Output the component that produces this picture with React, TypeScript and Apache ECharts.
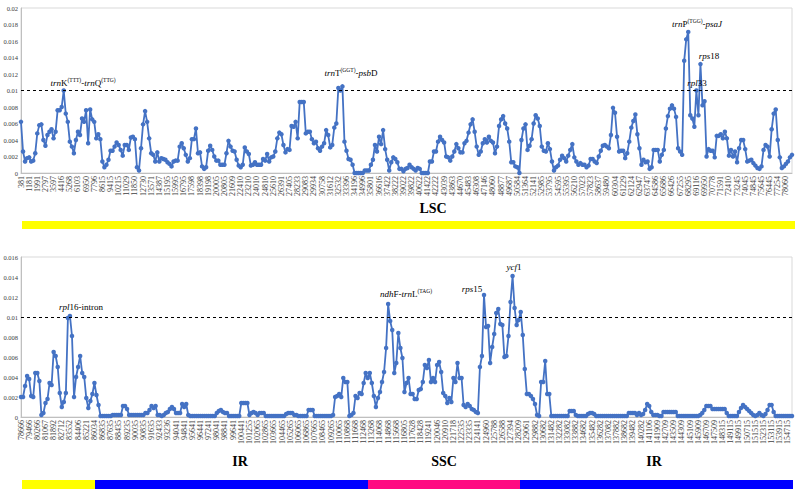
import React, { useEffect, useRef } from 'react';
import * as echarts from 'echarts';

// ---------- data ----------
const topTicks = [
  '381', '1181', '1991', '2797', '3597', '4416', '5268', '6103', '6950', '7796',
  '8615', '9415', '10215', '11029', '11850', '12730', '13571', '14387', '15195', '15995',
  '16795', '17598', '18398', '19198', '20005', '20805', '21609', '22410', '23210', '24010',
  '24810', '25610', '26391', '27405', '28233', '29083', '29934', '30758', '31612', '32532',
  '33396', '34196', '34996', '35801', '36616', '37422', '38222', '39022', '39822', '40622',
  '41422', '42222', '43039', '43863', '44670', '45483', '46308', '47146', '48060', '48877',
  '49687', '50584', '51364', '52141', '52985', '53795', '54595', '55395', '56210', '57023',
  '57823', '58637', '59480', '60304', '61229', '62124', '62947', '63747', '64586', '65686',
  '66426', '67255', '68295', '69116', '69950', '70778', '71591', '72410', '73245', '74045',
  '74845', '75645', '76445', '77254', '78060',
];

const bottomTicks = [
  '78666', '79466', '80266', '81067', '81892', '82712', '83552', '84406', '85221', '86034',
  '86835', '87635', '88435', '89235', '90035', '90835', '91635', '92433', '93236', '94041',
  '94841', '95641', '96441', '97241', '98041', '98841', '99641', '100441', '101255', '102065',
  '102865', '103665', '104465', '105265', '106065', '106865', '107665', '108465', '109265', '110065',
  '110868', '111668', '112468', '113268', '114068', '114868', '115668', '116805', '117628', '118428',
  '119241', '120046', '120910', '121718', '122535', '123335', '124141', '124960', '125788', '126588',
  '127394', '128209', '129061', '129882', '130682', '131482', '132282', '133082', '133882', '134682',
  '135482', '136282', '137082', '137882', '138682', '139482', '140282', '141106', '141909', '142709',
  '143509', '144309', '145109', '145909', '146709', '147509', '148315', '149115', '149915', '150715',
  '151515', '152315', '153115', '153915', '154715',
];

// Pi values, LSC panel
const topValues = [
  0.0062, 0.0026, 0.0014, 0.0018, 0.0019, 0.0014, 0.0015, 0.0024,
  0.0048, 0.0058, 0.0059, 0.004, 0.0033, 0.0046, 0.005, 0.0053, 0.0042, 0.005,
  0.0076, 0.0076, 0.008, 0.01, 0.0072, 0.0062, 0.0038, 0.0032, 0.0024,
  0.004, 0.005, 0.0046, 0.0066, 0.0062, 0.0076, 0.0036, 0.0077, 0.0065, 0.0062,
  0.0042, 0.0047, 0.0041, 0.0014, 0.0007, 0.001, 0.0016, 0.0027, 0.0027, 0.0032,
  0.0037, 0.0034, 0.0028, 0.0021, 0.0034, 0.0034, 0.0028, 0.0043, 0.0044, 0.0041,
  0.0007, 0.0003, 0.003, 0.0059, 0.0075, 0.0062, 0.0042, 0.0024, 0.0022, 0.0014,
  0.0025, 0.0014, 0.0018, 0.0017, 0.0016, 0.0013, 0.0011, 0.0008, 0.0014, 0.0015, 0.0015,
  0.0032, 0.0036, 0.003, 0.0022, 0.0014, 0.0018, 0.0041, 0.0041, 0.0054, 0.0024,
  0.0025, 0.0008, 0.0005, 0.0007, 0.0027, 0.0033, 0.0028, 0.002, 0.0015, 0.0015,
  0.001, 0.001, 0.001, 0.0024, 0.0039, 0.0032, 0.0027, 0.0026, 0.0016, 0.0009,
  0.0007, 0.001, 0.0031, 0.0026, 0.0023, 0.0009, 0.001, 0.0013, 0.001, 0.001, 0.001,
  0.0017, 0.0015, 0.0023, 0.0014, 0.0019, 0.002, 0.0026, 0.0042, 0.0049, 0.0047,
  0.0034, 0.0025, 0.0029, 0.0028, 0.0057, 0.0056, 0.0062, 0.0042, 0.0086, 0.0086,
  0.0086, 0.0048, 0.005, 0.005, 0.0041, 0.0036, 0.0038, 0.003, 0.0027, 0.0032,
  0.0036, 0.0052, 0.0046, 0.0031, 0.0034, 0.0055, 0.006, 0.0103, 0.01, 0.0105,
  0.0038, 0.0027, 0.0017, 0.0016, 0.001, 0, 0, 0, 0, 0,
  0.0003, 0.0003, 0.0003, 0.001, 0.0016, 0.0034, 0.0026, 0.0044, 0.0035, 0.0052,
  0.0029, 0.0016, 0.0003, 0.0013, 0.0019, 0.0017, 0.0013, 0.0005, 0.0005,
  0.0002, 0.0005, 0.0006, 0.001, 0.0007, 0.0005, 0.0003, 0.0006, 0.0005, 0,
  0, 0, 0, 0.0014, 0.0014, 0.0026, 0.0026, 0.0038, 0.0044, 0.004,
  0.0037, 0.002, 0.0019, 0.0015, 0.002, 0.0026, 0.0035, 0.003, 0.0025, 0.0025,
  0.0036, 0.0039, 0.0049, 0.0059, 0.0065, 0.005, 0.0032, 0.0022, 0.0026, 0.0036,
  0.0041, 0.0037, 0.0044, 0.0039, 0.0037, 0.0024, 0.0032, 0.0057, 0.0065, 0.0069,
  0.006, 0.0054, 0.0038, 0.0013, 0.0013, 0.0008, 0.0007, 0, 0.004, 0.0054,
  0.0059, 0.0028, 0.0033, 0.0041, 0.006, 0.007, 0.0066, 0.0057, 0.0032, 0.0027,
  0.0026, 0.0036, 0.0029, 0.0014, 0.0003, 0.0007, 0.0009, 0.0016, 0.0021, 0.0018,
  0.0014, 0.0021, 0.0028, 0.0035, 0.0019, 0.0014, 0.001, 0.0012, 0.001, 0.001,
  0.0007, 0.0009, 0.0017, 0.0017, 0.0014, 0.0012, 0.002, 0.0027, 0.0033, 0.0034,
  0.0032, 0.003, 0.0046, 0.0079, 0.0073, 0.0044, 0.0026, 0.0027, 0.0027, 0.0018,
  0.0024, 0.0038, 0.0055, 0.0063, 0.0071, 0.0047, 0.003, 0.001, 0.0016, 0.0013,
  0.0014, 0.0005, 0.0007, 0.0028, 0.0028, 0.0028, 0.0014, 0.0022, 0.0028, 0.0054,
  0.0069, 0.0078, 0.0082, 0.0078, 0.0068, 0.003, 0.0026, 0.0022, 0.0136, 0.0162,
  0.0171, 0.007, 0.0066, 0.0056, 0.01, 0.007, 0.0132, 0.0082, 0.0087, 0.002,
  0.0029, 0.0027, 0.0027, 0.0019, 0.0045, 0.0045, 0.0047, 0.0042, 0.005, 0.0042,
  0.0021, 0.0028, 0.002, 0.0026, 0.0013, 0.003, 0.004, 0.004, 0.0029, 0.0014,
  0.0015, 0.0016, 0.0012, 0.0009, 0.0006, 0.0005, 0.0008, 0.0028, 0.0034, 0.0032,
  0.002, 0.0053, 0.0072, 0.0077, 0.004, 0.0019, 0.0006, 0.0008, 0.0011, 0.0014,
  0.0019, 0.0022,
];

// Pi values, IR / SSC / IR panel
const bottomValues = [
  0.002, 0.002, 0.0031, 0.0041, 0.0038, 0.0021, 0.002, 0.0044, 0.0044, 0.0036,
  0.0002, 0.0004, 0.0014, 0.0018, 0.0034, 0.0032, 0.0065, 0.0061, 0.005, 0.0024,
  0.001, 0.0015, 0.0024, 0.0099, 0.0101, 0.0081, 0.002, 0.004, 0.005, 0.0061,
  0.0044, 0.004, 0.0019, 0.0009, 0.0016, 0.0023, 0.0034, 0.0022, 0.0012,
  0.0001, 0.0001, 0.0001, 0.0001, 0.0001, 0.0001,
  0.0002, 0.0002, 0.0002, 0.0002, 0.0002,
  0.0011, 0.0011, 0.0008,
  0.0002, 0.0002, 0.0002, 0.0002, 0.0002, 0.0002, 0.0002, 0.0002,
  0.0004, 0.0004, 0.0007,
  0.0011, 0.0009, 0.0011,
  0.0002, 0.0002, 0.0001, 0.0002,
  0.0004, 0.0005, 0.0008, 0.001, 0.0008,
  0.0004, 0.0004, 0.0004,
  0.0013, 0.001, 0.0013,
  0.0002, 0.0001,
  0.0001, 0.0001, 0.0001, 0.0001, 0.0001, 0.0001, 0.0001, 0.0001, 0.0001, 0.0001, 0.0001, 0.0001,
  0.0004, 0.0006, 0.0007, 0.0005, 0.0004, 0.0004,
  0.0001, 0.0001, 0.0001, 0.0001, 0.0001, 0.0001,
  0.0014, 0.0014, 0.0014, 0.0014,
  0.0002, 0.0004, 0.0005, 0.0004, 0.0002,
  0.0004, 0.0004, 0.0004,
  0.0001, 0.0001, 0.0001, 0.0001, 0.0001, 0.0001, 0.0001, 0.0001, 0.0001, 0.0001,
  0.0003, 0.0004, 0.0004, 0.0004, 0.0002, 0.0002, 0.0001,
  0.0001, 0.0001, 0.0001, 0.0001,
  0.0007, 0.0007, 0.0007,
  0.0001, 0.0001, 0.0001, 0.0001, 0.0001, 0.0001, 0.0001, 0.0001, 0.0001,
  0.0002,
  0.002, 0.0021, 0.0023, 0.002, 0.0039, 0.0035, 0.0035,
  0.0001, 0.0002, 0.0004,
  0.0021, 0.0019, 0.0024, 0.0023, 0.0034, 0.0044, 0.0039, 0.0044, 0.0034, 0.0021,
  0.001, 0.0019, 0.0025, 0.0035, 0.0045, 0.0069, 0.0113, 0.0096, 0.0087, 0.0044,
  0.0054, 0.0084, 0.0069, 0.0059, 0.0025, 0.0034, 0.0039, 0.0023, 0.0023, 0.0018,
  0.0018, 0.0027, 0.0028, 0.0035, 0.0052, 0.0049, 0.0057, 0.0035, 0.0039, 0.0035,
  0.0052, 0.0055, 0.0045, 0.0024, 0.0021, 0.0014, 0.0019, 0.0015, 0.0039, 0.0035,
  0.0054, 0.0039, 0.0039, 0.0012, 0.001, 0.0013, 0.0011, 0.0008, 0.0007, 0.0005,
  0.0004, 0.005, 0.0061, 0.0122, 0.009, 0.0091, 0.0054, 0.007, 0.0083, 0.0104,
  0.0108, 0.0093, 0.0092, 0.006, 0.0061, 0.0081, 0.0115, 0.0141, 0.0109, 0.0092,
  0.0097, 0.0105, 0.0082, 0.0048, 0.0023, 0.0023, 0.0021, 0.0018, 0.0013,
  0.0002, 0.0001, 0.0035, 0.0035, 0.0056, 0.0023, 0.0023,
  0.0001, 0.0001, 0.0001, 0.0001, 0.0001, 0.0001, 0.0001, 0.0001, 0.0001,
  0.0006, 0.0006, 0.0006, 0.0002,
  0.0001, 0.0001, 0.0001, 0.0001, 0.0001,
  0.0003, 0.0004, 0.0004, 0.0003, 0.0001,
  0.0001, 0.0001, 0.0001, 0.0001, 0.0001, 0.0001, 0.0001, 0.0001, 0.0001, 0.0001, 0.0001, 0.0001, 0.0001, 0.0001, 0.0001,
  0.0004, 0.0004, 0.0004, 0.0004, 0.0002, 0.0004, 0.0002,
  0.0003, 0.0007, 0.0013, 0.0011, 0.0005,
  0.0002, 0.0002, 0.0002,
  0.0001, 0.0001,
  0.0005, 0.0005, 0.0005, 0.0005, 0.0005, 0.0005, 0.0005,
  0.0001, 0.0001, 0.0001, 0.0001, 0.0001, 0.0001, 0.0001, 0.0001, 0.0001, 0.0001, 0.0001,
  0.0002, 0.0004, 0.0007, 0.0011, 0.0011, 0.0011,
  0.0008, 0.0008, 0.0008, 0.0008, 0.0008, 0.0008, 0.0008, 0.0004,
  0.0001, 0.0001, 0.0001, 0.0001, 0.0001,
  0.0005, 0.0009, 0.0012, 0.001, 0.0008, 0.0006, 0.0004, 0.0002,
  0.0001, 0.0002, 0.0004, 0.0002, 0.0001,
  0.0003, 0.0007, 0.0012, 0.0012, 0.0005,
  0.0001, 0.0001, 0.0001, 0.0001, 0.0001, 0.0001, 0.0001, 0.0001, 0.0001,
];

const threshold = 0.01;
const topMax = 0.02;
const bottomMax = 0.016;
const yStep = 0.002;
const ticksEvery = 4;

const topNoteTexts = [
  '{i|trn}K{s|(TTT)}-{i|trn}Q{s|(TTG)}',
  '{i|trn}T{s|(GGT)}-{i|psb}D',
  '{i|trn}P{s|(TGG)}-{i|psaJ}',
  '{i|rps}18',
  '{i|rpl}33',
];
const bottomNoteTexts = [
  '{i|rpl}16-intron',
  '{i|ndh}F-{i|trn}L{s|(TAG)}',
  '{i|rps}15',
  '{i|ycf}1',
];
const regionNames = ['LSC', 'IR', 'SSC', 'IR'];

// ---------- layout ----------
const FONT = '"Liberation Serif", "Times New Roman", serif';
const LINE = '#4472C4';
const topNotePos = [
  [83, 83], [351, 73], [697, 24], [709, 56], [697, 83],
];
const bottomNotePos = [
  [81, 307], [406, 294], [472, 289], [514, 267],
];
const regionLabelPos = [
  [433, 208], [240, 461], [444, 461], [654, 461],
];
const bars = [
  { x: 22, y: 221, w: 773, h: 8, color: '#FFFF00' },
  { x: 22, y: 480, w: 73, h: 9, color: '#FFFF00' },
  { x: 95, y: 480, w: 273, h: 9, color: '#0000FF' },
  { x: 368, y: 480, w: 152, h: 9, color: '#FF0A82' },
  { x: 520, y: 480, w: 273, h: 9, color: '#0000FF' },
];

const rich = {
  i: { fontStyle: 'italic', fontSize: 9, fontFamily: FONT, fill: '#000', verticalAlign: 'middle' },
  s: { fontSize: 5.5, fontFamily: FONT, fill: '#000', verticalAlign: 'top' },
};

function noteGraphic(text: string, pos: number[]) {
  return {
    type: 'text',
    x: pos[0],
    y: pos[1],
    z: 100,
    style: {
      text,
      fill: '#000',
      fontSize: 9,
      fontFamily: FONT,
      lineHeight: 12,
      align: 'center',
      verticalAlign: 'middle',
      rich,
    },
  };
}

function xAxisFor(grid: number, n: number, ticks: string[]) {
  return {
    type: 'value',
    gridIndex: grid,
    min: 0,
    max: n - 1,
    interval: ticksEvery,
    axisLine: { show: true, lineStyle: { color: '#bfbfbf', width: 1 } },
    axisTick: { show: false },
    splitLine: { show: false },
    axisLabel: {
      rotate: 90,
      fontSize: 8,
      fontFamily: FONT,
      color: '#404040',
      margin: 3,
      hideOverlap: false,
      showMinLabel: true,
      showMaxLabel: true,
      formatter: (v: number) => {
        const k = Math.round(v / ticksEvery);
        return Math.abs(v - k * ticksEvery) < 1e-6 && ticks[k] !== undefined ? ticks[k] : '';
      },
    },
  };
}

function yAxisFor(grid: number, max: number) {
  return {
    type: 'value',
    gridIndex: grid,
    min: 0,
    max,
    interval: yStep,
    axisLine: { show: true, lineStyle: { color: '#bfbfbf', width: 1 } },
    axisTick: { show: false },
    splitLine: { show: false },
    axisLabel: { fontSize: 6.5, fontFamily: FONT, color: '#404040', margin: 3 },
  };
}

function seriesFor(idx: number, values: number[]) {
  return {
    type: 'line',
    xAxisIndex: idx,
    yAxisIndex: idx,
    data: values.map((v, i) => [i, v]),
    symbol: 'circle',
    symbolSize: 4.5,
    showSymbol: true,
    lineStyle: { color: LINE, width: 1.8 },
    itemStyle: { color: LINE },
    markLine: {
      silent: true,
      symbol: 'none',
      label: { show: false },
      lineStyle: { color: '#000', type: [3, 3], width: 1 },
      data: [{ yAxis: threshold }],
    },
  };
}

export default function App() {
  const ref = useRef<HTMLDivElement>(null);
  useEffect(() => {
    document.body.style.margin = '0';
    if (!ref.current) return;
    const chart = echarts.init(ref.current, undefined, { renderer: 'svg' });
    const graphics: any[] = [];
    bars.forEach((b) =>
      graphics.push({ type: 'rect', shape: { x: b.x, y: b.y, width: b.w, height: b.h }, style: { fill: b.color } })
    );
    regionNames.forEach((name, i) =>
      graphics.push({
        type: 'text',
        x: regionLabelPos[i][0],
        y: regionLabelPos[i][1],
        style: {
          text: name,
          fill: '#000',
          fontSize: 14,
          fontWeight: 'bold',
          fontFamily: FONT,
          align: 'center',
          verticalAlign: 'middle',
        },
      })
    );
    topNoteTexts.forEach((t, i) => graphics.push(noteGraphic(t, topNotePos[i])));
    bottomNoteTexts.forEach((t, i) => graphics.push(noteGraphic(t, bottomNotePos[i])));

    chart.setOption({
      animation: false,
      backgroundColor: '#fff',
      grid: [
        { left: 21, right: 6, top: 8, height: 165, show: true, borderColor: '#d9d9d9', borderWidth: 1 },
        { left: 21, right: 6, top: 257, height: 160, show: true, borderColor: '#d9d9d9', borderWidth: 1 },
      ],
      xAxis: [xAxisFor(0, topValues.length, topTicks), xAxisFor(1, bottomValues.length, bottomTicks)],
      yAxis: [yAxisFor(0, topMax), yAxisFor(1, bottomMax)],
      series: [seriesFor(0, topValues), seriesFor(1, bottomValues)],
      graphic: graphics,
    });
    return () => chart.dispose();
  }, []);
  return (
    <div
      ref={ref}
      style={{ position: 'absolute', left: 0, top: 0, width: 798, height: 499 }}
    />
  );
}
